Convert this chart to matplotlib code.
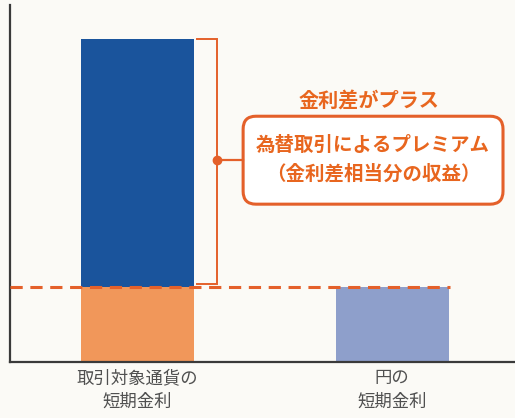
import matplotlib.pyplot as plt
from matplotlib.patches import FancyBboxPatch

plt.rcParams['font.family'] = ['Noto Sans CJK JP', 'DejaVu Sans']

# data
categories = ['取引対象通貨の\n短期金利', '円の\n短期金利']
foreign_rate = 1.0      # 取引対象通貨の短期金利 (orange part)
premium = 3.3           # プレミアム (dark blue part)
yen_rate = 1.0          # 円の短期金利
title_text = '金利差がプラス'
box_text = '為替取引によるプレミアム\n（金利差相当分の収益）'

c_dark = '#1a549c'
c_orange = '#f1975a'
c_light = '#8e9fcb'
c_line = '#e4602a'
c_text = '#e8661f'
bg = '#fbfaf6'

fig = plt.figure(figsize=(5.15, 4.18), dpi=100, facecolor=bg)
ax = fig.add_axes([10 / 515, 56 / 418, 505 / 515, 357 / 418])
ax.set_facecolor(bg)

x = [0, 1]
w = 0.443
ax.bar(x[0], foreign_rate, width=w, color=c_orange)
ax.bar(x[0], premium, width=w, bottom=foreign_rate, color=c_dark)
ax.bar(x[1], yen_rate, width=w, color=c_light)

ax.set_xlim(-0.498, 1.482)
ax.set_ylim(0, 4.75)

# dashed reference line at the yen rate
ax.plot([-0.498, 1.227], [yen_rate, yen_rate], color=c_line, lw=2.2,
        dashes=(4, 2.5), zorder=3)

# bracket over the premium part
top = foreign_rate + premium
ax.plot([0.235, 0.314, 0.314, 0.235], [top, top, foreign_rate + 0.04, foreign_rate + 0.04],
        color=c_line, lw=1.4, solid_joinstyle='miter')
ax.plot([0.314, 0.416], [2.69, 2.69], color=c_line, lw=1.6)
ax.plot(0.314, 2.69, 'o', color=c_line, ms=6)

box = FancyBboxPatch((0.416, 2.10), 1.435 - 0.416, 3.27 - 2.10,
                     boxstyle='round,pad=0,rounding_size=0.05',
                     mutation_aspect=1 / 0.29,
                     fc='white', ec=c_line, lw=2.2)
ax.add_patch(box)

ax.text(0.91, 3.48, title_text, ha='center', va='center', color=c_text,
        fontsize=14.5, fontweight='bold')
ax.text(0.925, 2.69, box_text, ha='center', va='center', color=c_text,
        fontsize=14, fontweight='bold', linespacing=1.6)

ax.set_xticks(x, categories)
ax.tick_params(axis='x', length=0, pad=5, labelsize=12.5, labelcolor='#505050')
for lbl in ax.get_xticklabels():
    lbl.set_linespacing(1.4)
ax.set_yticks([])
for s in ['top', 'right']:
    ax.spines[s].set_visible(False)
for s in ['left', 'bottom']:
    ax.spines[s].set_color('#3a3a3a')
    ax.spines[s].set_linewidth(1.6)

plt.savefig('out.png', dpi=100, facecolor=bg)
